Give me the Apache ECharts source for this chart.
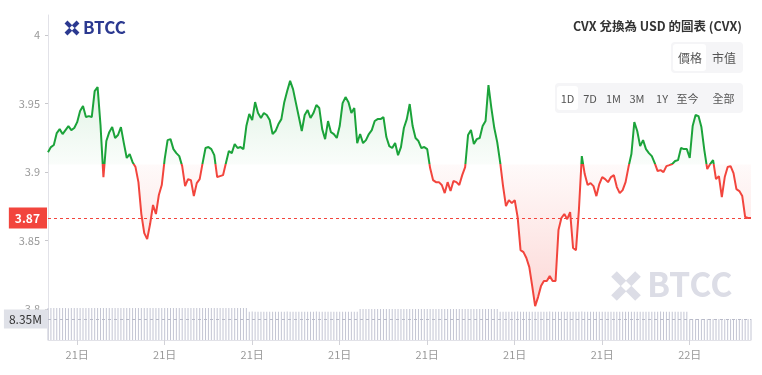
<!DOCTYPE html>
<html><head><meta charset="utf-8">
<script src="https://cdn.jsdelivr.net/npm/echarts@6/dist/echarts.min.js"></script>
<style>html,body{margin:0;padding:0;background:#fff}#c{width:762px;height:375px}</style>
</head><body><div id="c"></div>
<script>
// ---- data ----
const prices = [
3.9145,3.9182,3.9197,3.9284,3.9313,3.9277,3.9306,3.9335,3.9306,3.9321,
3.9364,3.9445,3.9481,3.9401,3.9408,3.9401,3.9591,3.9620,3.9343,3.8963,
3.9226,3.9291,3.9328,3.9248,3.9270,3.9328,3.9211,3.9102,3.9131,3.9072,
3.9036,3.8926,3.8693,3.8554,3.8510,3.8620,3.8759,3.8693,3.8832,3.8905,
3.9094,3.9233,3.9240,3.9167,3.9138,3.9116,3.9043,3.8897,3.8948,3.8941,
3.8824,3.8919,3.8948,3.9065,3.9175,3.9182,3.9167,3.9123,3.8963,3.8970,
3.8977,3.9065,3.9153,3.9138,3.9204,3.9175,3.9182,3.9167,3.9335,3.9423,
3.9379,3.9510,3.9430,3.9394,3.9430,3.9416,3.9379,3.9277,3.9299,3.9350,
3.9386,3.9510,3.9591,3.9665,3.9605,3.9503,3.9401,3.9299,3.9416,3.9452,
3.9394,3.9430,3.9489,3.9467,3.9313,3.9240,3.9372,3.9291,3.9277,3.9248,
3.9335,3.9503,3.9547,3.9510,3.9430,3.9467,3.9211,3.9277,3.9211,3.9233,
3.9277,3.9306,3.9372,3.9386,3.9386,3.9401,3.9255,3.9189,3.9175,3.9211,
3.9123,3.9182,3.9321,3.9386,3.9496,3.9335,3.9248,3.9226,3.9175,3.9182,
3.9167,3.9029,3.8941,3.8926,3.8926,3.8905,3.8846,3.8926,3.8861,3.8934,
3.8926,3.8905,3.8977,3.9036,3.9270,3.9306,3.9204,3.9240,3.9248,3.9335,
3.9372,3.9634,3.9467,3.9321,3.9218,3.9072,3.8897,3.8751,3.8795,3.8773,
3.8795,3.8671,3.8430,3.8415,3.8372,3.8306,3.8167,3.8021,3.8087,3.8167,
3.8204,3.8204,3.8240,3.8204,3.8204,3.8576,3.8664,3.8693,3.8656,3.8707,
3.8445,3.8430,3.8722,3.9116,3.8985,3.8905,3.8919,3.8897,3.8824,3.8912,
3.8963,3.8948,3.8926,3.8963,3.8977,3.8890,3.8846,3.8868,3.8926,3.9036,
3.9131,3.9364,3.9299,3.9189,3.9233,3.9167,3.9138,3.9116,3.9065,3.9007,
3.9014,3.8999,3.9043,3.9050,3.9058,3.9080,3.9087,3.9175,3.9167,3.9167,
3.9102,3.9335,3.9416,3.9408,3.9328,3.9160,3.9021,3.9058,3.9087,3.8948,
3.8970,3.8817,3.8963,3.9036,3.9043,3.8992,3.8875,3.8861,3.8824,3.8671,
3.8664,3.8664
];
const volumesM = [
12.70,12.72,12.68,12.71,12.69,12.72,12.70,12.66,12.71,12.70,
12.69,12.72,12.70,12.68,12.71,12.70,12.72,12.69,12.70,12.71,
12.68,12.70,12.72,12.69,12.71,12.70,12.68,12.72,12.70,12.69,
12.71,12.70,12.72,12.68,12.70,12.71,12.69,12.70,12.72,12.70,
12.68,12.71,12.70,12.69,12.72,12.70,12.71,12.68,12.70,12.69,
12.72,12.70,12.71,12.69,12.70,12.68,12.72,12.70,12.71,12.69,
12.70,12.72,12.68,12.70,12.71,12.69,12.70,12.72,12.70,
11.25,11.28,11.22,11.26,11.24,11.27,11.25,11.23,11.26,11.25,
11.27,11.24,11.25,11.28,11.22,11.26,11.25,11.24,11.27,11.25,
11.23,11.26,11.25,11.28,11.24,11.25,11.26,11.22,11.25,11.27,
11.24,11.26,11.25,11.23,11.27,11.25,11.24,11.26,
12.33,12.35,12.30,12.34,12.32,12.36,12.31,12.33,12.35,12.32,
12.34,12.31,12.33,12.36,12.32,12.34,12.30,12.33,12.35,12.32,
12.33,12.34,12.31,12.35,12.33,12.32,12.36,12.30,12.33,12.34,
12.32,12.35,12.33,12.31,12.34,12.33,12.36,12.32,12.33,12.35,
12.31,12.34,12.33,12.32,12.35,12.33,12.30,12.34,
11.25,11.27,11.23,11.26,11.25,11.24,11.28,11.25,11.22,11.26,
11.25,11.27,11.24,11.25,11.26,11.23,11.25,11.28,11.24,11.25,
11.26,11.25,11.23,11.27,11.25,11.24,11.26,11.25,11.28,11.22,
11.25,11.26,11.24,11.27,11.25,11.23,11.26,11.25,11.24,11.27,
11.25,11.26,11.22,11.25,11.27,11.24,11.25,11.26,11.23,11.25,
11.27,11.25,11.24,11.26,11.25,11.28,11.23,11.25,11.26,11.24,
11.25,11.27,11.24,11.26,11.25,
8.36,8.34,8.37,8.35,8.33,8.36,8.35,8.34,8.37,8.35,
8.36,8.34,8.35,8.33,8.36,8.35,8.34,8.37,8.35,8.36,
8.34,8.35
];
const yTickValues = [3.8, 3.85, 3.9, 3.95, 4];
const xTickLabels = ['21日','21日','21日','21日','21日','21日','21日','22日'];
const firstTickIndex = 10, tickStep = 30;
const baseline = 3.9055;
const titleText = 'CVX 兌換為 USD 的圖表 (CVX)';
const modeButtons = ['價格','市值'];
const rangeButtons = ['1D','7D','1M','3M','1Y','至今','全部'];

// ---- derived ----
const categories = prices.map((_, i) => {
  const m = 120 + 6 * i, d = 21 + Math.floor(m / 1440), h = Math.floor((m % 1440) / 60), mm = m % 60;
  return d + '日 ' + String(h).padStart(2, '0') + ':' + String(mm).padStart(2, '0');
});
const greenArea = prices.map(v => Math.max(v, baseline));
const redArea = prices.map(v => Math.min(v, baseline));
const lastPrice = prices[prices.length - 1];
const lastVol = volumesM[volumesM.length - 1];

const GREEN = '#1ba33a', RED = '#f2453d';
const FONT = '"Noto Sans CJK TC", "Noto Sans", sans-serif';
const isTick = i => i >= firstTickIndex && (i - firstTickIndex) % tickStep === 0;

const chart = echarts.init(document.getElementById('c'), null, {renderer: 'canvas'});

const g = [];
function xIcon(x, y, s, color, w) {
  return [
    {type: 'line', shape: {x1: x, y1: y, x2: x + s, y2: y + s}, style: {stroke: color, lineWidth: w}},
    {type: 'line', shape: {x1: x + s, y1: y, x2: x, y2: y + s}, style: {stroke: color, lineWidth: w}},
    {type: 'rect', shape: {x: x + s / 2 - w * 0.45, y: y + s / 2 - w * 0.45, width: w * 0.9, height: w * 0.9}, rotation: Math.PI / 4, originX: x + s / 2, originY: y + s / 2, style: {fill: '#fff'}}
  ];
}
xIcon(66, 22, 12, '#2b3990', 4).forEach(e => g.push(e));
g.push({type: 'text', left: 83, top: 19, style: {text: 'BTCC', font: 'bold 17px ' + FONT, fill: '#2b3990'}});
xIcon(614, 274, 24, '#dcdde6', 8).forEach(e => g.push(e));
g.push({type: 'text', left: 647, top: 267, style: {text: 'BTCC', font: 'bold 34px ' + FONT, fill: '#dcdde6'}});

g.push({type: 'text', right: 20, top: 20, style: {text: titleText, font: 'bold 12.5px ' + FONT, fill: '#333'}});
g.push({type: 'rect', shape: {x: 671, y: 42, width: 72, height: 31, r: 4}, style: {fill: '#f5f5f7'}});
g.push({type: 'rect', shape: {x: 673, y: 44, width: 33, height: 27, r: 3}, style: {fill: '#ffffff'}});
[690, 724].forEach((cx, k) => g.push({type: 'text', x: cx, y: 58, style: {text: modeButtons[k], font: '12px ' + FONT, fill: '#555', align: 'center', verticalAlign: 'middle'}}));
g.push({type: 'rect', shape: {x: 555, y: 83, width: 188, height: 30, r: 4}, style: {fill: '#f5f5f7'}});
g.push({type: 'rect', shape: {x: 557, y: 86, width: 21, height: 24, r: 3}, style: {fill: '#ffffff'}});
[567.5, 590, 613.5, 637, 662, 687.5, 723.5].forEach((cx, k) => g.push({type: 'text', x: cx, y: 98.5, style: {text: rangeButtons[k], font: '11px ' + FONT, fill: '#555', align: 'center', verticalAlign: 'middle'}}));

chart.setOption({
  animation: false,
  backgroundColor: '#fff',
  textStyle: {fontFamily: FONT},
  graphic: g,
  grid: [
    {left: 48, right: 11, top: 15, height: 294, outerBoundsMode: 'none'},
    {left: 48, right: 11, top: 308, height: 32, outerBoundsMode: 'none'}
  ],
  xAxis: [
    {type: 'category', gridIndex: 0, data: categories, boundaryGap: false, show: false},
    {type: 'category', gridIndex: 1, data: categories, boundaryGap: false,
     axisLine: {lineStyle: {color: '#e2e2e8'}},
     axisTick: {interval: isTick, length: 5, lineStyle: {color: '#d2d2d8'}},
     axisLabel: {interval: isTick, formatter: (v, i) => xTickLabels[(i - firstTickIndex) / tickStep], color: '#999', fontSize: 11, margin: 9},
     splitLine: {show: false}}
  ],
  yAxis: [
    {type: 'value', gridIndex: 0, min: 3.8, max: 4.0146,
     axisLine: {show: true, lineStyle: {color: '#e2e2e8'}},
     axisTick: {show: true, length: 3, customValues: yTickValues, lineStyle: {color: '#c8c8cc'}},
     axisLabel: {customValues: yTickValues, color: '#999', fontSize: 11, margin: 8, formatter: v => String(+v.toFixed(2))},
     splitLine: {show: false}},
    {type: 'value', gridIndex: 1, min: 0, max: 'dataMax',
     axisLine: {show: true, lineStyle: {color: '#e2e2e8'}},
     axisTick: {show: false}, axisLabel: {show: false}, splitLine: {show: false}}
  ],
  visualMap: {show: false, type: 'piecewise', seriesIndex: 0, dimension: 1,
    pieces: [{gt: 3.5, lte: baseline, color: RED}, {gt: baseline, lte: 4.5, color: GREEN}],
    outOfRange: {color: RED}},
  series: [
    {type: 'line', data: prices, xAxisIndex: 0, yAxisIndex: 0, showSymbol: false, z: 5,
     lineStyle: {width: 2}},
    {type: 'line', data: greenArea, xAxisIndex: 0, yAxisIndex: 0, showSymbol: false, silent: true, z: 2,
     lineStyle: {width: 0, opacity: 0},
     areaStyle: {origin: baseline, color: new echarts.graphic.LinearGradient(0, 0, 0, 1, [
       {offset: 0, color: 'rgba(27,163,58,0.20)'}, {offset: 1, color: 'rgba(27,163,58,0.03)'}])}},
    {type: 'line', data: redArea, xAxisIndex: 0, yAxisIndex: 0, showSymbol: false, silent: true, z: 3,
     lineStyle: {width: 0, opacity: 0},
     areaStyle: {origin: baseline, color: new echarts.graphic.LinearGradient(0, 0, 0, 1, [
       {offset: 0, color: 'rgba(242,69,61,0.04)'}, {offset: 1, color: 'rgba(242,69,61,0.30)'}])},
     markLine: {silent: true, symbol: ['none', 'none'], animation: false, precision: 4,
       lineStyle: {color: RED, type: [3, 3], width: 1, opacity: 1},
       label: {position: 'start', distance: 1, formatter: () => lastPrice.toFixed(2), color: '#fff', fontWeight: 'bold', fontSize: 12,
               backgroundColor: RED, padding: [5, 7, 4, 6]},
       data: [{yAxis: lastPrice}]}},
    {type: 'bar', data: volumesM, xAxisIndex: 1, yAxisIndex: 1, barWidth: 1, silent: true,
     itemStyle: {color: '#c3c5d3'},
     markLine: {silent: true, symbol: ['none', 'none'], animation: false, precision: 4,
       lineStyle: {color: '#b8bac8', type: [3, 3], width: 1},
       label: {position: 'start', distance: 1, formatter: () => lastVol.toFixed(2) + 'M', color: '#333', fontSize: 12,
               backgroundColor: '#dfe1e8', padding: [4, 5, 3, 5]},
       data: [{yAxis: lastVol}]}}
  ]
});
</script></body></html>
